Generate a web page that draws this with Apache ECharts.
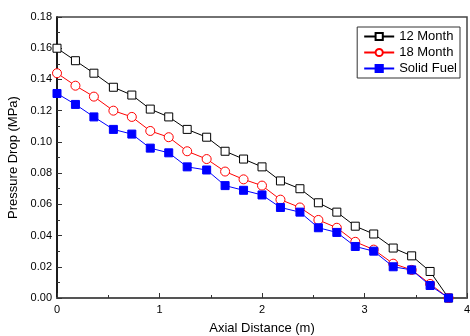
<!DOCTYPE html>
<html>
<head>
<meta charset="utf-8">
<script src="https://cdn.jsdelivr.net/npm/echarts@6/dist/echarts.min.js"></script>
<style>
  html, body { margin: 0; padding: 0; background: #fff; }
  #chart { width: 470px; height: 336px; }
</style>
</head>
<body>
<div id="chart"></div>
<script>
// axial positions (m)
var axialDistance = [0, 0.18, 0.36, 0.55, 0.73, 0.91, 1.09, 1.27, 1.46, 1.64, 1.82,
  2.00, 2.18, 2.37, 2.55, 2.73, 2.91, 3.09, 3.28, 3.46, 3.64, 3.82];
// pressure drop (MPa)
var month12 = [0.160, 0.152, 0.144, 0.135, 0.130, 0.121, 0.116, 0.108, 0.103, 0.094, 0.089,
  0.084, 0.075, 0.070, 0.061, 0.055, 0.046, 0.041, 0.032, 0.027, 0.017, 0.000];
var month18 = [0.144, 0.136, 0.129, 0.120, 0.116, 0.107, 0.103, 0.094, 0.089, 0.081, 0.076,
  0.072, 0.063, 0.058, 0.050, 0.045, 0.036, 0.031, 0.022, 0.018, 0.009, 0.000];
var solidFuel = [0.131, 0.124, 0.116, 0.108, 0.105, 0.096, 0.093, 0.084, 0.082, 0.072, 0.069,
  0.066, 0.058, 0.055, 0.045, 0.042, 0.033, 0.030, 0.020, 0.018, 0.008, 0.000];
var seriesNames = ['12 Month', '18 Month', 'Solid Fuel'];

function pairs(ys) {
  var out = [];
  for (var i = 0; i < ys.length; i++) {
    out.push([axialDistance[i], ys[i]]);
  }
  return out;
}

var myChart = echarts.init(document.getElementById('chart'), null, { renderer: 'canvas' });
var font = 'Liberation Sans, Arial, sans-serif';

var option = {
  animation: false,
  textStyle: { fontFamily: font },
  grid: {
    left: 57, top: 17, right: 3, bottom: 38,
    outerBoundsMode: 'none',
    show: true, borderColor: '#444', borderWidth: 1.5
  },
  legend: {
    orient: 'vertical',
    right: 10, top: 27,
    backgroundColor: '#fff',
    borderColor: '#333', borderWidth: 1,
    padding: [3, 3, 3, 6],
    itemGap: 3,
    itemWidth: 30, itemHeight: 9,
    textStyle: { fontSize: 13, color: '#000', fontFamily: font },
    data: seriesNames
  },
  xAxis: {
    type: 'value',
    min: 0, max: 4, interval: 1,
    name: 'Axial Distance (m)',
    nameLocation: 'middle', nameGap: 24,
    nameTextStyle: { fontSize: 13, color: '#000' },
    axisLine: { lineStyle: { color: '#555', width: 2 } },
    axisTick: { inside: true, length: 5, lineStyle: { color: '#333' } },
    minorTick: { show: true, splitNumber: 2, length: 3, lineStyle: { color: '#333' } },
    axisLabel: { fontSize: 11, color: '#000', margin: 6 },
    splitLine: { show: false }
  },
  yAxis: {
    type: 'value',
    min: 0, max: 0.18, interval: 0.02,
    name: 'Pressure Drop (MPa)',
    nameLocation: 'middle', nameGap: 35,
    nameTextStyle: { fontSize: 13, color: '#000' },
    axisLine: { show: true, lineStyle: { color: '#000', width: 1.5 } },
    axisTick: { inside: true, length: 5, lineStyle: { color: '#333' } },
    minorTick: { show: true, splitNumber: 2, length: 3, lineStyle: { color: '#333' } },
    axisLabel: {
      fontSize: 11, color: '#000', margin: 5,
      formatter: function (v) { return v.toFixed(2); }
    },
    splitLine: { show: false }
  },
  series: [
    {
      name: seriesNames[0], type: 'line', data: pairs(month12),
      symbol: 'rect', symbolSize: 8,
      lineStyle: { color: '#000', width: 1 },
      itemStyle: { color: '#fff', borderColor: '#000', borderWidth: 1 },
      z: 3
    },
    {
      name: seriesNames[1], type: 'line', data: pairs(month18),
      symbol: 'circle', symbolSize: 9,
      lineStyle: { color: '#ff0000', width: 1 },
      itemStyle: { color: '#fff', borderColor: '#ff0000', borderWidth: 1 },
      z: 4
    },
    {
      name: seriesNames[2], type: 'line', data: pairs(solidFuel),
      symbol: 'rect', symbolSize: 8,
      lineStyle: { color: '#0000ff', width: 1 },
      itemStyle: { color: '#0000ff', borderColor: '#0000ff', borderWidth: 1 },
      z: 5
    }
  ]
};

myChart.setOption(option);
</script>
</body>
</html>
